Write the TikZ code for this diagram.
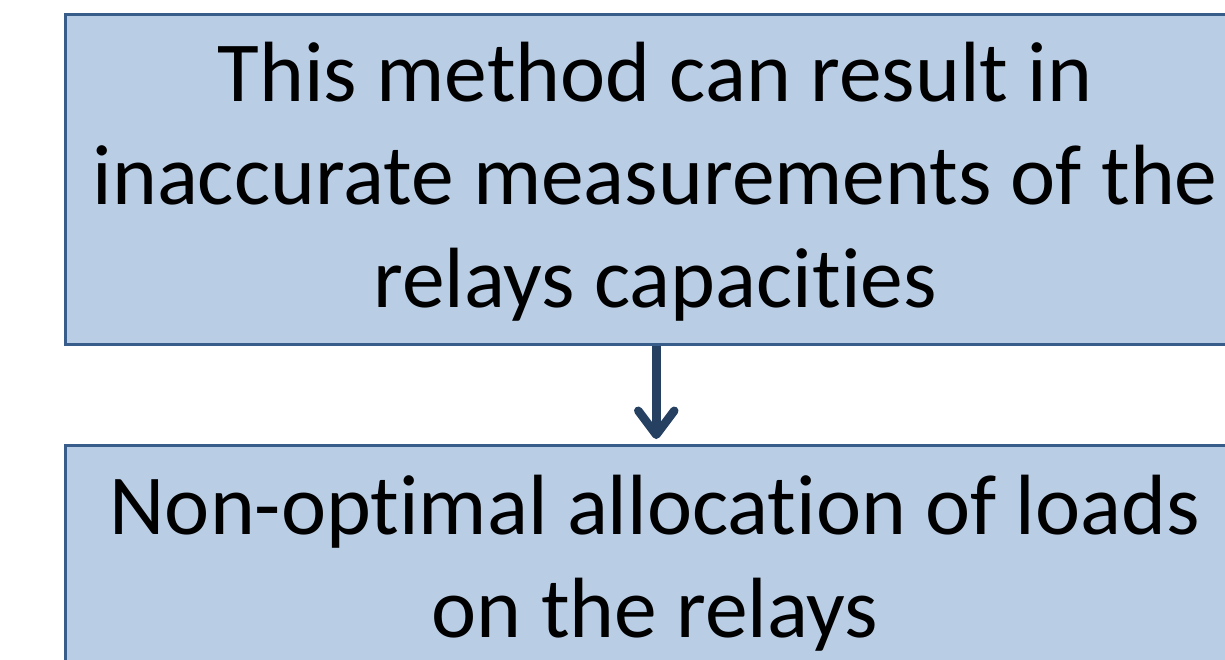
\documentclass[tikz,border=0pt]{standalone}
\usepackage{fontspec}
\setmainfont[RawFeature=-liga]{Carlito}
\usetikzlibrary{arrows.meta}
\definecolor{boxfill}{HTML}{B9CDE5}
\definecolor{boxline}{HTML}{385D8A}
\definecolor{arrowcol}{HTML}{254061}
\tikzset{
  stagebox/.style={draw=boxline, line width=2.5pt, fill=boxfill, anchor=north west,
    minimum width=1182pt, inner sep=0pt},
  % the base anchor of a multi-line node sits on its last line
  boxtext/.style={align=center, inner sep=0pt, anchor=base,
    font=\fontsize{85.5}{103}\selectfont},
  flowarrow/.style={draw=arrowcol, line width=8.5pt,
    -{Straight Barb[length=24pt, width=36pt, line cap=round, line join=round]},
    shorten >=5pt}
}
\begin{document}
\begin{tikzpicture}[x=1pt, y=-1pt]
  \useasboundingbox (0,0) rectangle (1225,659);
  \clip (0,0) rectangle (1225,659);
  % cause box
  \node[stagebox, minimum height=330pt] (cause) at (64,13) {};
  \node[boxtext] (causetext) at (655,307)
    {This method can result in\\inaccurate measurements of the\\relays capacities};
  % consequence box
  \node[stagebox, minimum height=260pt] (effect) at (64,444) {};
  \node[boxtext] (effecttext) at (655,637)
    {Non-optimal allocation of loads\\on the relays};
  \draw[flowarrow] (cause.south) -- (effect.north);
\end{tikzpicture}
\end{document}
